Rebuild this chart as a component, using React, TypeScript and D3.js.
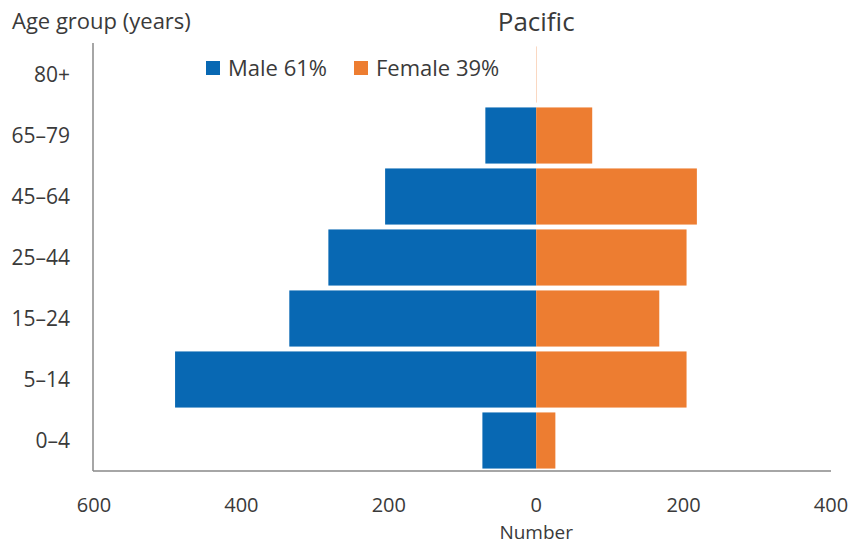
import React from 'react'
import * as d3 from 'd3'

const ageGroups = ['80+', '65–79', '45–64', '25–44', '15–24', '5–14', '0–4']
const maleValues = [0, 69, 205, 282, 335, 490, 73]
const femaleValues = [1, 76, 218, 204, 167, 204, 26]
const xTicks = [-600, -400, -200, 0, 200, 400]

const W = 856
const H = 545
const BLUE = '#0868b3'
const ORANGE = '#ed7d31'
const TEXT = '#3a3a3a'
const FONT = '"Open Sans", "Noto Sans", sans-serif'

const App = () => {
  const x = d3.scaleLinear().domain([-600, 400]).range([94, 831])
  const y = d3.scaleBand().domain(ageGroups).range([44, 471]).paddingInner(0.08).paddingOuter(0.04)
  const x0 = x(0)
  const [left, right] = x.range()
  const bottom = y.range()[1]

  return (
    <svg width={W} height={H} style={{ position: 'absolute', left: 0, top: 0, background: '#fff' }} fontFamily={FONT}>
      {/* title + axis title */}
      <text x={x0} y={31} textAnchor="middle" fontSize={26} fill={TEXT}>Pacific</text>
      <text x={12} y={29} fontSize={22} fill={TEXT}>Age group (years)</text>

      {/* legend */}
      <rect x={206} y={61} width={14} height={14} fill={BLUE} />
      <text x={228} y={76} fontSize={22} fill={TEXT}>Male 61%</text>
      <rect x={354} y={61} width={14} height={14} fill={ORANGE} />
      <text x={376} y={76} fontSize={22} fill={TEXT}>Female 39%</text>

      {/* bars */}
      {ageGroups.map((g, i) => (
        <g key={g}>
          <rect
            x={x(-maleValues[i])}
            y={y(g)}
            width={x0 - x(-maleValues[i])}
            height={y.bandwidth()}
            fill={BLUE}
          />
          <rect
            x={x0}
            y={y(g)}
            width={x(femaleValues[i]) - x0}
            height={y.bandwidth()}
            fill={ORANGE}
            opacity={femaleValues[i] < 5 ? 0.4 : 1}
          />
        </g>
      ))}

      {/* axes */}
      <line x1={left - 1} x2={left - 1} y1={43} y2={bottom} stroke="#888" strokeWidth={1.5} />
      <line x1={left - 1} x2={right} y1={bottom} y2={bottom} stroke="#888" strokeWidth={1.5} />

      {ageGroups.map((g) => (
        <text
          key={g}
          x={70}
          y={(y(g) ?? 0) + y.bandwidth() / 2}
          dy="0.35em"
          textAnchor="end"
          fontSize={21}
          fill={TEXT}
        >
          {g}
        </text>
      ))}

      {xTicks.map((t) => (
        <text key={t} x={x(t)} y={512} textAnchor="middle" fontSize={20} fill={TEXT}>
          {Math.abs(t)}
        </text>
      ))}
      <text x={x0} y={538.5} textAnchor="middle" fontSize={19} fill={TEXT}>Number</text>
    </svg>
  )
}

export default App
